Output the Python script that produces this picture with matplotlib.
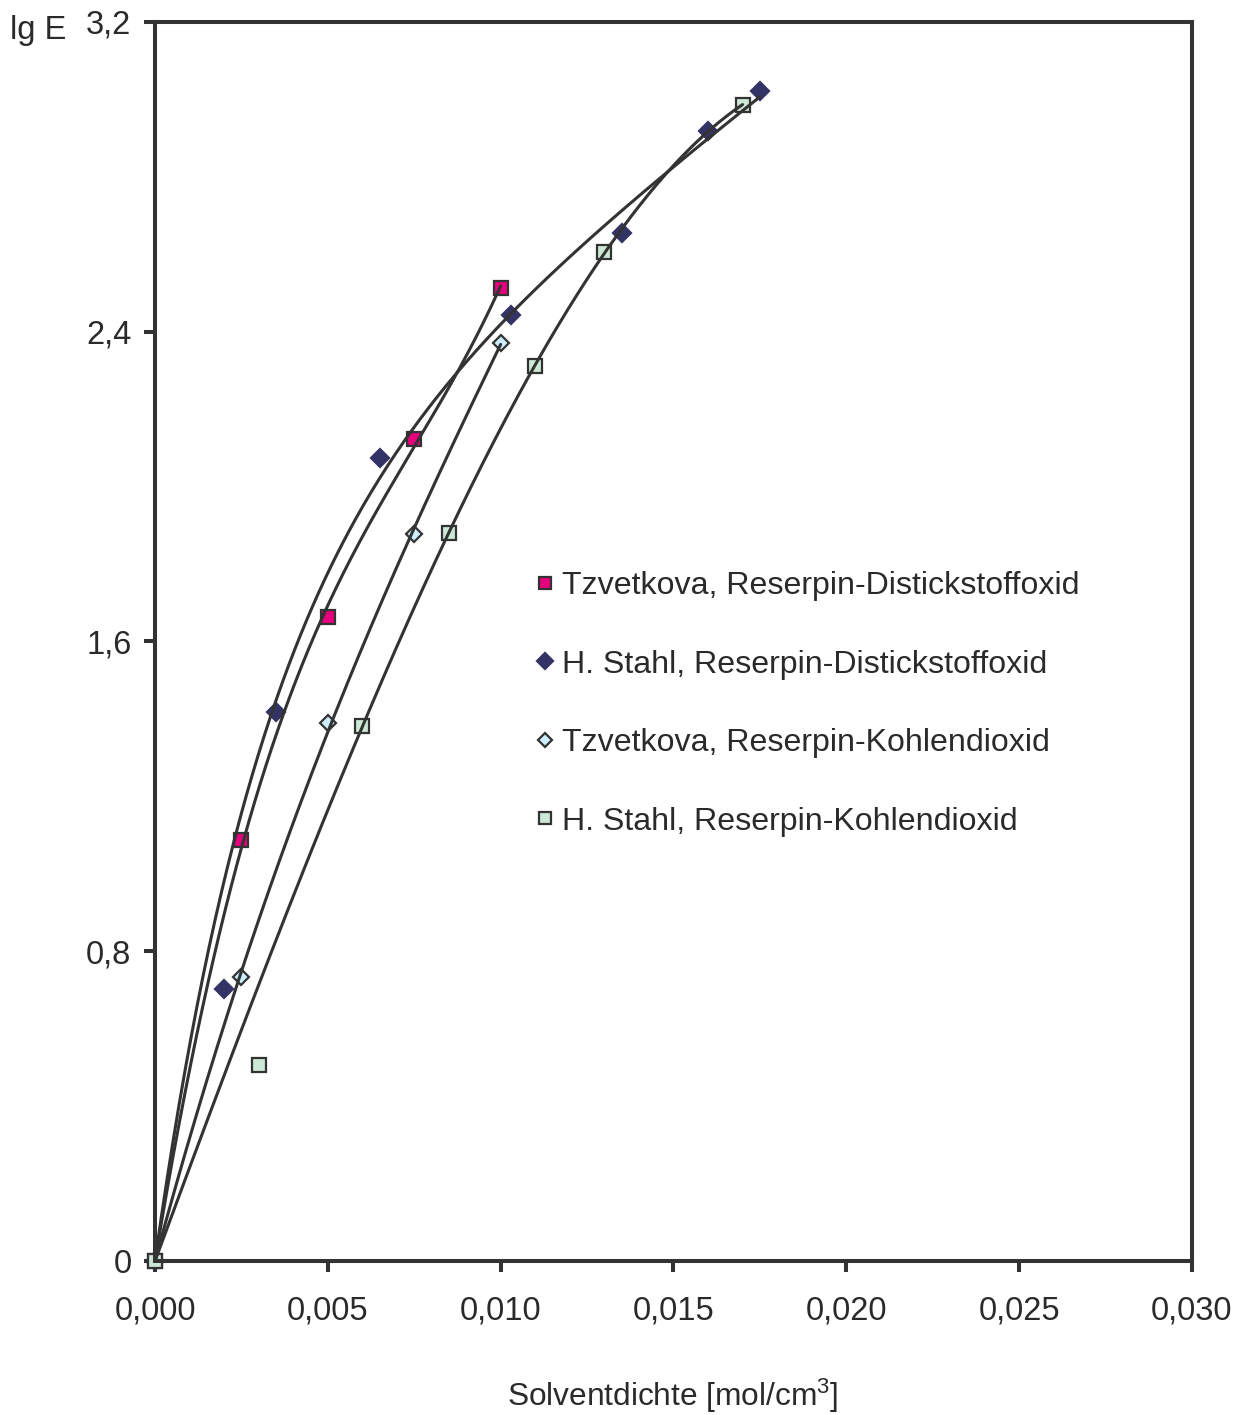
import numpy as np
import matplotlib.pyplot as plt
from matplotlib.ticker import FixedLocator, FuncFormatter
from matplotlib.lines import Line2D

plt.rcParams['font.family'] = ['Liberation Sans', 'DejaVu Sans']
plt.rcParams['mathtext.default'] = 'regular'

# Tzvetkova, Reserpin-Distickstoffoxid
tz_n2o_x = [0.0, 0.0025, 0.005, 0.0075, 0.010]
tz_n2o_y = [0.0, 1.087, 1.663, 2.123, 2.513]
# H. Stahl, Reserpin-Distickstoffoxid
st_n2o_x = [0.0, 0.002, 0.0035, 0.0065, 0.0103, 0.0135, 0.016, 0.0175]
st_n2o_y = [0.0, 0.702, 1.418, 2.074, 2.443, 2.655, 2.918, 3.022]
# Tzvetkova, Reserpin-Kohlendioxid
tz_co2_x = [0.0, 0.0025, 0.005, 0.0075, 0.010]
tz_co2_y = [0.0, 0.733, 1.389, 1.878, 2.371]
# H. Stahl, Reserpin-Kohlendioxid
st_co2_x = [0.0, 0.003, 0.006, 0.0085, 0.011, 0.013, 0.017]
st_co2_y = [0.0, 0.506, 1.382, 1.880, 2.311, 2.606, 2.986]

labels = ['Tzvetkova, Reserpin-Distickstoffoxid',
          'H. Stahl, Reserpin-Distickstoffoxid',
          'Tzvetkova, Reserpin-Kohlendioxid',
          'H. Stahl, Reserpin-Kohlendioxid']

# Messpunkte, die nicht in die Ausgleichskurve eingehen
fit_skip = [[], [1], [], [1]]
# Art der Ausgleichskurve: 'poly' = Polynom 3. Ordnung, 'sat' = a(1-e^-bx)+cx
fit_kind = ['poly', 'sat', 'poly', 'poly']


def trend(xs, ys, kind):
    xx = np.linspace(0, xs.max(), 300)
    if kind == 'poly':
        A = np.column_stack([xs, xs ** 2, xs ** 3])
        c = np.linalg.lstsq(A, ys, rcond=None)[0]
        return xx, c[0] * xx + c[1] * xx ** 2 + c[2] * xx ** 3
    best = None
    for b in np.linspace(50, 1500, 3000):
        A = np.column_stack([1 - np.exp(-b * xs), xs])
        c, res = np.linalg.lstsq(A, ys, rcond=None)[:2]
        r = res[0] if len(res) else 0
        if best is None or r < best[0]:
            best = (r, b, c)
    _, b, c = best
    return xx, c[0] * (1 - np.exp(-b * xx)) + c[1] * xx


edge = '#333333'
txt = '#2a2a2a'
series = [
    (tz_n2o_x, tz_n2o_y, 's', '#E6007E', edge, 10),
    (st_n2o_x, st_n2o_y, 'D', '#333366', '#333366', 8.8),
    (tz_co2_x, tz_co2_y, 'D', '#CCEEFF', edge, 8),
    (st_co2_x, st_co2_y, 's', '#CCE8D6', edge, 10),
]

fig = plt.figure(figsize=(12.45, 14.15), dpi=100)
ax = fig.add_axes([0.1245, 0.1088, 0.8329, 0.8757])

handles = []
for (xs, ys, m, fc, ec, ms), lab, skip, kind in zip(series, labels, fit_skip, fit_kind):
    xs = np.array(xs)
    ys = np.array(ys)
    keep = [i for i in range(len(xs)) if i not in skip]
    xx, yy = trend(xs[keep], ys[keep], kind)
    ax.plot(xx, yy, color=edge, lw=2.2, zorder=3, solid_capstyle='round')
    ax.plot(xs, ys, ls='none', marker=m, markersize=ms, markerfacecolor=fc,
            markeredgecolor=ec, markeredgewidth=1.6, zorder=2, clip_on=False)
    handles.append(Line2D([], [], ls='none', marker=m, markersize=ms * 0.92,
                          markerfacecolor=fc, markeredgecolor=ec,
                          markeredgewidth=1.6, label=lab))

ax.set_xlim(0, 0.030)
ax.set_ylim(0, 3.2)
ax.xaxis.set_major_locator(FixedLocator([0, 0.005, 0.010, 0.015, 0.020, 0.025, 0.030]))
ax.yaxis.set_major_locator(FixedLocator([0, 0.8, 1.6, 2.4, 3.2]))
ax.xaxis.set_major_formatter(FuncFormatter(lambda v, p: f'{v:.3f}'.replace('.', ',')))
ax.yaxis.set_major_formatter(FuncFormatter(lambda v, p: '0' if v == 0 else f'{v:.1f}'.replace('.', ',')))

for s in ax.spines.values():
    s.set_color(edge)
    s.set_linewidth(2.9)
ax.tick_params(direction='out', length=8, width=2.9, color=edge,
               labelsize=23.5, labelcolor=txt)
ax.tick_params(axis='x', pad=17)
ax.tick_params(axis='y', pad=9)

ax.text(-0.0858, 0.993, 'lg E', transform=ax.transAxes, fontsize=23.5,
        color=txt, ha='right', va='center')
fig.text(0.5405, 0.0135, 'Solventdichte [mol/cm$^3$]', fontsize=22.8,
         color=txt, ha='center', va='center')

ax.legend(handles=handles, loc='upper left', bbox_to_anchor=(0.3385, 0.58),
          frameon=False, fontsize=23.1, labelspacing=1.51, handlelength=0.6,
          handletextpad=0.24, labelcolor=txt)

fig.savefig('out.png', dpi=100)
